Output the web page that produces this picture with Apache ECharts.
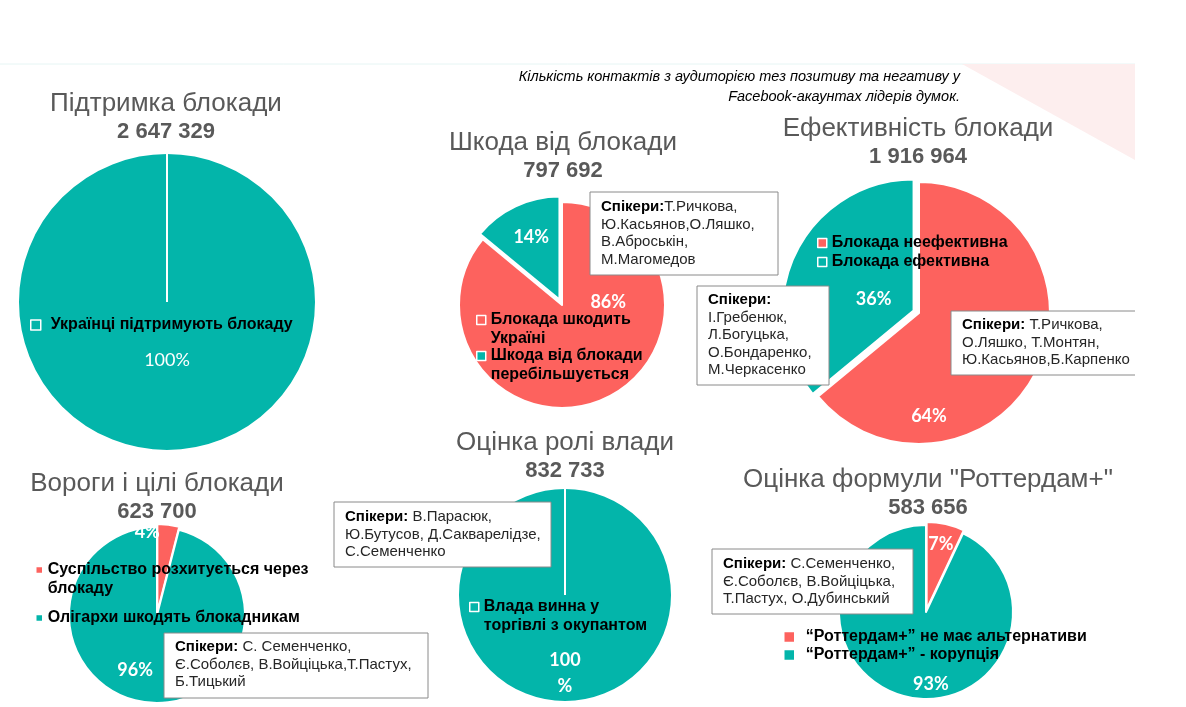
<!DOCTYPE html>
<html><head><meta charset="utf-8">
<script src="https://cdn.jsdelivr.net/npm/echarts@6/dist/echarts.min.js"></script>
<style>html,body{margin:0;padding:0;background:#fff}#c{width:1186px;height:707px}</style>
</head><body><div id="c"></div>
<script>
// ---------- DATA ----------
const chartTitles = ['Підтримка блокади','Шкода від блокади','Ефективність блокади','Вороги і цілі блокади','Оцінка ролі влади','Оцінка формули "Роттердам+"'];
const totals = [2647329, 797692, 1916964, 623700, 832733, 583656];
const sliceNames = [
  ['Українці підтримують блокаду'],
  ['Блокада шкодить Україні','Шкода від блокади перебільшується'],
  ['Блокада неефективна','Блокада ефективна'],
  ['Суспільство розхитується через блокаду','Олігархи шкодять блокадникам'],
  ['Влада винна у торгівлі з окупантом'],
  ['“Роттердам+” не має альтернативи','“Роттердам+” - корупція']
];
const sliceValues = [[100],[86,14],[64,36],[4,96],[100],[7,93]];
const subtitleLines = ['Кількість контактів з аудиторією тез позитиву та негативу у','Facebook-акаунтах лідерів думок.'];
const speakerLabel = 'Спікери:';
const speakerLists = [
  'Т.Ричкова,\nЮ.Касьянов,О.Ляшко,\nВ.Аброськін,\nМ.Магомедов',
  '\nІ.Гребенюк,\nЛ.Богуцька,\nО.Бондаренко,\nМ.Черкасенко',
  ' Т.Ричкова,\nО.Ляшко, Т.Монтян,\nЮ.Касьянов,Б.Карпенко',
  ' С. Семенченко,\nЄ.Соболєв, В.Войціцька,Т.Пастух,\nБ.Тицький',
  ' В.Парасюк,\nЮ.Бутусов, Д.Сакварелідзе,\nС.Семенченко',
  ' С.Семенченко,\nЄ.Соболєв, В.Войціцька,\nТ.Пастух, О.Дубинський'
];

// ---------- STYLE / LAYOUT ----------
const TEAL = '#03b5aa', RED = '#fd625e', GREY = '#595959';
const pieLayout = [
  {c:[167,302], r:149, t:[166,104], colors:[TEAL], sel:-1, selOff:0, lab:[[0,-19]], fmt:'{d}%', w:'normal', line:true},
  {c:[562,305], r:103, t:[563,143], colors:[RED,TEAL], sel:1, selOff:6, lab:[[23,-52],[-5,-13]], fmt:'{d}%', w:'bold'},
  {c:[919,313], r:131, t:[918,129], colors:[RED,TEAL], sel:1, selOff:6, lab:[[-52,74],[22,18]], fmt:'{d}%', w:'bold'},
  {c:[157,615], r:88, t:[157,484], colors:[RED,TEAL], sel:0, selOff:3, lab:[[-16,-33],[-16,9]], fmt:'{d}%', w:'bold'},
  {c:[565,595], r:107, t:[565,443], colors:[TEAL], sel:-1, selOff:0, lab:[[0,22]], fmt:'{d}\n%', w:'bold', line:true},
  {c:[926,612], r:87, t:[928,480], colors:[RED,TEAL], sel:0, selOff:3, lab:[[4,-20],[15,27]], fmt:'{d}%', w:'bold'}
];
// pie, slice, iconLeft, iconCenterY, iconSize, wordsOnFirstLine (0 = one line), textGap
const legendSpots = [
  [0,0, 30, 325, 10, 0, 10],
  [1,0, 476, 320, 9, 2, 4],
  [1,1, 476, 356, 9, 3, 4],
  [2,0, 817, 243, 9, 0, 3],
  [2,1, 817, 262, 9, 0, 3],
  [3,0, 35, 570, 7, 3, 3],
  [3,1, 35, 618, 7, 0, 3],
  [4,0, 469, 607, 9, 3, 5],
  [5,0, 783, 637, 11, 0, 11],
  [5,1, 783, 655, 11, 0, 11]
];
// x, y, w, h, textTop, openRight
const boxLayout = [
  [590,192,188,83,198,false],
  [697,286,132,99,291,false],
  [951,311,184,64,316,true],
  [164,633,264,65,638,false],
  [334,502,217,65,508,false],
  [712,549,201,65,555,false]
];

function fmtTotal(n){ return String(n).replace(/\B(?=(\d{3})+(?!\d))/g,' '); }

const titles = chartTitles.map((t,i)=>({
  text:t, subtext:fmtTotal(totals[i]), left:pieLayout[i].t[0], top:pieLayout[i].t[1]-15,
  textAlign:'center', padding:0, itemGap:0,
  textStyle:{fontFamily:'Liberation Sans, Arial', fontSize:26, fontWeight:'normal', color:GREY, lineHeight:30},
  subtextStyle:{fontFamily:'Liberation Sans, Arial', fontSize:22, fontWeight:'bold', color:GREY, lineHeight:26}
}));

const series = pieLayout.map((L,i)=>({
  type:'pie', name:chartTitles[i], center:L.c, radius:L.r, startAngle:90, clockwise:true,
  selectedMode: L.sel>=0 ? 'single' : false, selectedOffset:L.selOff,
  avoidLabelOverlap:false, animation:false, percentPrecision:0,
  emphasis:{disabled:true},
  itemStyle:{borderColor:'#fff', borderWidth:2},
  label:{show:true, position:'inside', formatter:L.fmt, color:'#fff', fontFamily:'Lato', fontSize:18, fontWeight:L.w, lineHeight:26},
  labelLine:{show:false},
  labelLayout:(p)=>({dx:L.lab[p.dataIndex][0], dy:L.lab[p.dataIndex][1]}),
  data: sliceValues[i].map((v,j)=>({name:sliceNames[i][j], value:v, selected:j===L.sel, itemStyle:{color:L.colors[j]}}))
}));

const LH = 19;
const legends = legendSpots.map(s=>{
  const [pi,si,left,cy,size,firstWords,gap] = s;
  const twoLines = firstWords > 0;
  // two-line entries get an empty leading line so the icon lines up with the first line
  const fmt = twoLines ? (name => { const w = name.split(' '); return '\n' + w.slice(0,firstWords).join(' ') + '\n' + w.slice(firstWords).join(' '); }) : (name => name);
  const H = (twoLines ? 3 : 1) * LH;
  const top = cy - H/2;
  return {left:left, top:top, orient:'vertical', padding:0, itemWidth:size, itemHeight:size, icon:'rect',
    selectedMode:false, data:[sliceNames[pi][si]], formatter:fmt,
    itemStyle:{borderColor:'#fff', borderWidth:1.5},
    textStyle:{fontFamily:'Liberation Sans, Arial', fontSize:16, fontWeight:'bold', color:'#000', lineHeight:LH,
      padding:[0,0,0,Math.max(0,gap-5)]}};
});

const graphics = [
  {type:'line', z:0, shape:{x1:0,y1:64,x2:1135,y2:64}, style:{stroke:'#e6f5f4', lineWidth:1}},
  {type:'polygon', z:0, shape:{points:[[962,64],[1135,64],[1135,160]]}, style:{fill:'#fdeeee'}},
  {type:'text', z:100, x:960, y:67, style:{text:subtitleLines.join('\n'), align:'right', verticalAlign:'top',
    font:'italic 14.5px "Liberation Sans", Arial', lineHeight:20, fill:'#000'}}
];
pieLayout.forEach(L=>{
  if (L.line) graphics.push({type:'line', z:100, shape:{x1:L.c[0], y1:L.c[1]-L.r, x2:L.c[0], y2:L.c[1]}, style:{stroke:'#fff', lineWidth:2}});
});
boxLayout.forEach((b,i)=>{
  const [x,y,w,h,tt,open] = b;
  graphics.push({type:'rect', z:100, shape:{x:x,y:y,width:w,height:h}, style:{fill:'#fff', stroke: open?'none':'#8a8a8a', lineWidth:1}});
  if (open) graphics.push({type:'polyline', z:101, shape:{points:[[x+w,y],[x,y],[x,y+h],[x+w,y+h]]}, style:{fill:'none', stroke:'#8a8a8a', lineWidth:1}});
  graphics.push({type:'text', z:102, x:x+11, y:tt, style:{
    text:'{b|'+speakerLabel+'}'+speakerLists[i], fontFamily:'Liberation Sans, Arial', fontSize:15, lineHeight:17.6, fill:'#262626',
    verticalAlign:'top', rich:{b:{fontWeight:'bold', fill:'#000', fontSize:15, fontFamily:'Liberation Sans, Arial', lineHeight:17.6}}}});
});

const chart = echarts.init(document.getElementById('c'), null, {renderer:'canvas'});
chart.setOption({backgroundColor:'#fff', animation:false, title:titles, legend:legends, series:series, graphic:graphics});
</script></body></html>
